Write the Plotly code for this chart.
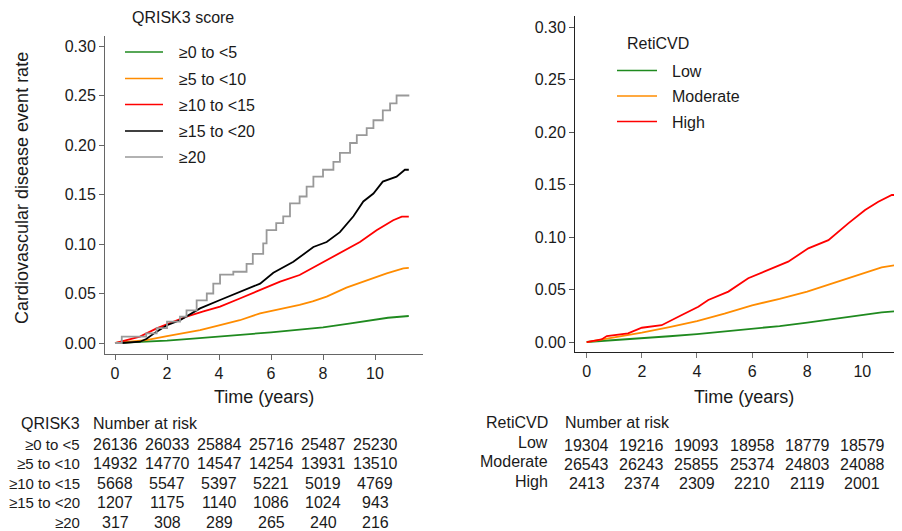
import plotly.graph_objects as go

W, H = 902, 531

# ---------------- data ----------------
# Left panel: QRISK3 score groups
q_names = ["≥0 to <5", "≥5 to <10", "≥10 to <15", "≥15 to <20", "≥20"]
q_colors = ["#1f8a1f", "#ff8c00", "#ff0000", "#000000", "#999999"]

q0_t = [0, 1, 2, 3, 4, 5, 6, 7, 8, 9, 10, 10.5, 11.3]
q0_v = [0, 0.0012, 0.0024, 0.0044, 0.0064, 0.0086, 0.0108, 0.0132, 0.0158, 0.0195, 0.0232, 0.0255, 0.0273]

q1_t = [0, 0.5, 1.2, 2.0, 2.6, 3.27, 4.04, 4.8, 5.58, 6.3, 7.1, 7.6, 8.14, 8.9, 9.68, 10.45, 11.09, 11.3]
q1_v = [0, 0.0010, 0.003, 0.007, 0.0095, 0.013, 0.018, 0.023, 0.030, 0.034, 0.0384, 0.042, 0.0468, 0.056, 0.0636, 0.0704, 0.0754, 0.0758]

q2_t = [0, 0.5, 0.96, 1.6, 2.0, 2.75, 3.4, 4.04, 4.8, 5.58, 6.35, 7.1, 7.9, 8.65, 9.42, 10.06, 10.7, 11.03, 11.3]
q2_v = [0, 0.003, 0.0064, 0.0148, 0.019, 0.0266, 0.032, 0.0367, 0.045, 0.0535, 0.062, 0.0687, 0.080, 0.0906, 0.102, 0.114, 0.124, 0.1276, 0.1276]

q3_t = [0, 0.25, 0.96, 1.2, 1.6, 2.0, 2.5, 3.27, 4.04, 4.8, 5.58, 6.09, 6.86, 7.63, 8.14, 8.65, 9.17, 9.55, 9.94, 10.3, 10.83, 11.15, 11.3]
q3_v = [0, 0.0, 0.0013, 0.004, 0.0115, 0.018, 0.023, 0.035, 0.0434, 0.052, 0.060, 0.071, 0.082, 0.097, 0.102, 0.112, 0.128, 0.143, 0.151, 0.163, 0.168, 0.175, 0.175]

q4_t = [0, 0.26, 0.96, 1.2, 1.6, 2.0, 2.5, 2.75, 3.14, 3.53, 3.78, 4.04, 4.55, 5.06, 5.3, 5.7, 5.83, 6.2, 6.47, 6.73,
        7.1, 7.37, 7.63, 8.0, 8.4, 8.65, 9.04, 9.3, 9.68, 9.94, 10.3, 10.58, 10.83, 11.32]
q4_v = [0, 0.0064, 0.0064, 0.0098, 0.015, 0.0215, 0.0266, 0.033, 0.043, 0.050, 0.060, 0.069, 0.072, 0.080, 0.090, 0.1007, 0.114, 0.121, 0.128, 0.141,
        0.148, 0.158, 0.168, 0.175, 0.183, 0.192, 0.202, 0.210, 0.217, 0.225, 0.235, 0.242, 0.250, 0.250]

q_t = [q0_t, q1_t, q2_t, q3_t, q4_t]
q_v = [q0_v, q1_v, q2_v, q3_v, q4_v]
q_shape = ["linear", "linear", "linear", "linear", "hv"]

# Right panel: RetiCVD groups
r_names = ["Low", "Moderate", "High"]
r_colors = ["#1f8a1f", "#ff8c00", "#ff0000"]

r0_t = [0, 1, 2, 3, 4, 5, 6, 7, 8, 9, 10, 10.7, 11.37]
r0_v = [0, 0.0017, 0.0035, 0.0055, 0.0076, 0.0099, 0.0124, 0.0152, 0.0184, 0.022, 0.0257, 0.0282, 0.0298]

r1_t = [0, 1, 2, 3, 4, 5, 6, 7, 8, 9, 10, 10.7, 11.37]
r1_v = [0, 0.0042, 0.0089, 0.0142, 0.020, 0.027, 0.035, 0.041, 0.048, 0.0565, 0.0654, 0.071, 0.074]

r2_t = [0, 0.54, 0.73, 1.5, 2.0, 2.72, 3.45, 4.05, 4.41, 5.14, 5.86, 6.59, 7.31, 8.04, 8.77, 9.49, 10.1, 10.58, 11.07, 11.37]
r2_v = [0, 0.0025, 0.0057, 0.0083, 0.0136, 0.016, 0.0257, 0.0336, 0.040, 0.048, 0.0607, 0.0686, 0.0765, 0.0892, 0.097, 0.113, 0.1257, 0.1336, 0.140, 0.140]

r_t = [r0_t, r1_t, r2_t]
r_v = [r0_v, r1_v, r2_v]

# Numbers at risk
risk_times = [0, 2, 4, 6, 8, 10]
q_risk = [
    [26136, 26033, 25884, 25716, 25487, 25230],
    [14932, 14770, 14547, 14254, 13931, 13510],
    [5668, 5547, 5397, 5221, 5019, 4769],
    [1207, 1175, 1140, 1086, 1024, 943],
    [317, 308, 289, 265, 240, 216],
]
r_risk = [
    [19304, 19216, 19093, 18958, 18779, 18579],
    [26543, 26243, 25855, 25374, 24803, 24088],
    [2413, 2374, 2309, 2210, 2119, 2001],
]

y_ticks = [0.0, 0.05, 0.10, 0.15, 0.20, 0.25, 0.30]
y_ticktext = ["0.00", "0.05", "0.10", "0.15", "0.20", "0.25", "0.30"]
x_ticks = [0, 2, 4, 6, 8, 10]

# ---------------- figure ----------------
FONT = "Liberation Sans, Arial, Helvetica, sans-serif"
TXT = "#1a1a1a"
OFF = 8  # page body margin


def px(x):
    return (x - OFF) / W


def py(y):
    return 1 - (y - OFF) / H


fig = go.Figure()

for i in range(5):
    fig.add_trace(go.Scatter(
        x=q_t[i], y=q_v[i], mode="lines", name=q_names[i],
        line=dict(color=q_colors[i], width=1.8, shape=q_shape[i]),
        xaxis="x", yaxis="y", showlegend=False, hoverinfo="skip"))

for i in range(3):
    fig.add_trace(go.Scatter(
        x=r_t[i], y=r_v[i], mode="lines", name=r_names[i],
        line=dict(color=r_colors[i], width=1.8),
        xaxis="x2", yaxis="y2", showlegend=False, hoverinfo="skip"))

axis_common = dict(showgrid=False, zeroline=False, showline=True, ticks="outside",
                   ticklen=5, tickwidth=1, tickfont=dict(size=16, color=TXT, family=FONT))

fig.update_layout(
    width=W, height=H, margin=dict(l=0, r=0, t=0, b=0),
    paper_bgcolor="white", plot_bgcolor="white",
    font=dict(family=FONT, color=TXT, size=16),
    xaxis=dict(domain=[px(105), px(423)], range=[-0.385, 11.846], tickvals=x_ticks,
               anchor="y", linecolor="#666666", tickcolor="#666666", **axis_common),
    yaxis=dict(domain=[py(354), py(36)], range=[-0.0111, 0.3101], tickvals=y_ticks, ticktext=y_ticktext,
               anchor="x", linecolor="#666666", tickcolor="#666666", **axis_common),
    xaxis2=dict(domain=[px(575), 1.0], range=[-0.425, 11.73], tickvals=x_ticks,
                anchor="y2", linecolor="#222222", tickcolor="#777777", **axis_common),
    yaxis2=dict(domain=[py(352), py(16)], range=[-0.0095, 0.3105], tickvals=y_ticks, ticktext=y_ticktext,
                anchor="x2", linecolor="#222222", tickcolor="#555555", **axis_common),
    showlegend=False,
)

ann = []
shapes = []


def text(t, x, y, anchor="left", size=16, xref="paper", angle=0):
    ann.append(dict(text=t, x=x, y=y, xref=xref, yref="paper", showarrow=False,
                    xanchor=anchor, yanchor="middle", textangle=angle,
                    font=dict(size=size, color=TXT, family=FONT)))


# axis titles
text("Cardiovascular disease event rate", px(22), py(188), anchor="center", size=18, angle=-90)
text("Time (years)", px(264), py(397), anchor="center", size=18)
text("Time (years)", px(743.5), py(397), anchor="center", size=18)

# legends (drawn as keys + labels)
text("QRISK3 score", px(130), py(18), anchor="left")
q_leg_y = [52, 78.5, 104.5, 131, 157]
for i, name in enumerate(q_names):
    shapes.append(dict(type="line", xref="paper", yref="paper", x0=px(125), x1=px(163),
                       y0=py(q_leg_y[i]), y1=py(q_leg_y[i]), line=dict(color=q_colors[i], width=1.6)))
    text(name, px(177), py(q_leg_y[i] + 0.5), anchor="left")

text("RetiCVD", px(625), py(43), anchor="left")
r_leg_y = [70.5, 96, 121.5]
for i, name in enumerate(r_names):
    shapes.append(dict(type="line", xref="paper", yref="paper", x0=px(617), x1=px(657),
                       y0=py(r_leg_y[i]), y1=py(r_leg_y[i]), line=dict(color=r_colors[i], width=1.6)))
    text(name, px(670), py(r_leg_y[i] + 0.5), anchor="left")

# left risk table
text("QRISK3", px(82), py(423), anchor="right")
text("Number at risk", px(91), py(423), anchor="left")
q_rows_y = [444, 463.5, 483, 502.5, 522]
for i, name in enumerate(q_names):
    text(name, px(82), py(q_rows_y[i]), anchor="right", size=15)
    for j, t in enumerate(risk_times):
        text(str(q_risk[i][j]), t, py(q_rows_y[i]), anchor="center", xref="x")

# right risk table
text("RetiCVD", px(550), py(422), anchor="right")
text("Number at risk", px(563), py(422), anchor="left")
r_rows_y = [445, 464, 483.5]
r_lab_y = [442, 461, 481]
for i, name in enumerate(r_names):
    text(name, px(550), py(r_lab_y[i]), anchor="right")
    for j, t in enumerate(risk_times):
        text(str(r_risk[i][j]), t, py(r_rows_y[i]), anchor="center", xref="x2")

fig.update_layout(annotations=ann, shapes=shapes)

fig.write_html("out.html")
